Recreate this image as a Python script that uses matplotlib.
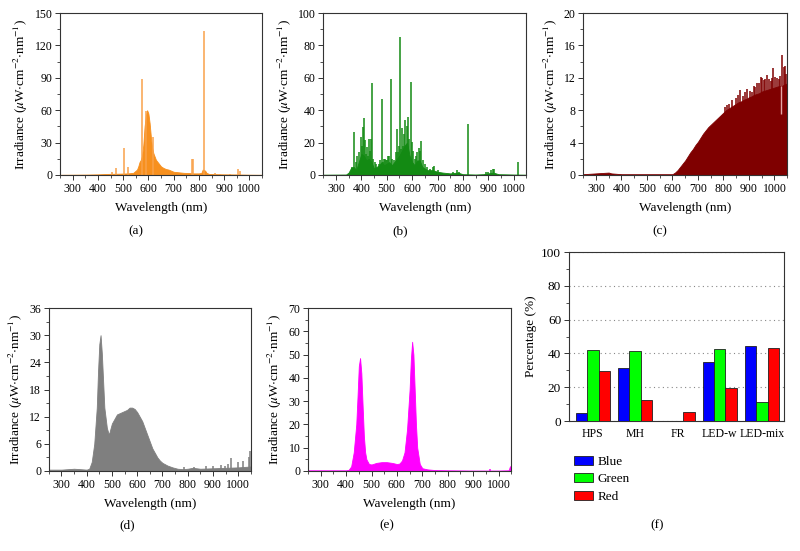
import matplotlib
matplotlib.use("Agg")
import matplotlib.pyplot as plt
from matplotlib.ticker import MultipleLocator

plt.rcParams["font.family"] = ["Liberation Serif", "DejaVu Serif"]
plt.rcParams["mathtext.fontset"] = "stix"

# (a) HPS: continuum + emission lines
hps_wl = [250, 300, 350, 400, 440, 480, 520, 540, 550, 555, 560, 565, 570, 575, 580, 585,
          590, 595, 600, 605, 610, 615, 620, 630, 640, 650, 660, 670, 680, 690, 700, 720,
          740, 760, 780, 800, 810, 815, 825, 830, 840, 860, 900, 950, 1000, 1050]
hps_val = [0.2, 0.3, 0.4, 0.6, 1.0, 1.2, 1.5, 2.0, 4.0, 5.0, 8.0, 12.0, 14.0, 18.0, 28.0, 45.0,
           55.0, 60.0, 57.0, 48.0, 35.0, 25.0, 20.0, 14.0, 11.0, 8.0, 6.5, 5.5, 5.0, 4.0, 3.0, 2.5,
           2.0, 1.8, 1.5, 1.5, 2.0, 5.0, 4.0, 2.0, 1.0, 0.8, 0.6, 0.5, 0.3, 0.2]
hps_line_wl = [455, 471, 503, 520, 573, 590, 620, 772, 776, 820, 864, 882, 922, 955, 963]
hps_line_val = [2.5, 6.2, 25.4, 7.7, 89, 59.5, 35.3, 14.5, 14.5, 133, 2.0, 1.0, 1.0, 5.6, 3.4]

# (b) MH
mh_wl = [250, 340, 350, 360, 370, 380, 390, 400, 410, 420, 430, 440, 450, 460, 470, 480,
         490, 500, 510, 520, 530, 540, 550, 560, 570, 580, 590, 600, 610, 620, 630, 640,
         650, 660, 680, 700, 720, 750, 780, 800, 850, 880, 900, 920, 940, 1000, 1050]
mh_val = [0.2, 0.3, 1.5, 4.5, 5.0, 3.0, 8.0, 13.0, 12.0, 9.0, 10.0, 8.0, 4.0, 5.0, 6.0, 8.0,
          6.0, 7.0, 8.0, 6.0, 8.0, 10.0, 12.0, 15.0, 18.0, 20.0, 12.0, 8.0, 6.0, 9.0, 9.0, 5.0,
          4.0, 3.0, 3.0, 2.0, 1.5, 1.0, 1.5, 0.5, 0.3, 0.5, 1.0, 1.5, 0.5, 0.3, 0.2]
mh_line_wl = [365, 372, 378, 385, 392, 398, 402, 407, 412, 416, 420, 424, 427, 430, 433, 437,
              443, 447, 452, 459, 468, 475, 480, 485, 489, 493, 497, 500, 505, 510, 515, 520,
              527, 535, 541, 545, 548, 552, 556, 560, 566, 570, 574, 578, 583, 589, 595, 600,
              604, 611, 615, 620, 626, 632, 637, 642, 649, 660, 670, 681, 688, 700, 760, 777,
              785, 821, 890, 900, 910, 917, 922, 1015]
mh_line_val = [5, 26.3, 8, 12, 14, 23.4, 18, 29.6, 35.2, 21.3, 13, 17.2, 12, 22.4, 15, 22,
               57, 10, 8, 6.8, 7, 9, 47.2, 8, 10, 10, 9, 9, 12, 12, 59, 10,
               9.3, 14, 28.4, 14, 18, 84.9, 16, 29.2, 18, 25, 33.7, 30, 35.8, 22, 57.3, 20.3,
               15, 10, 12, 14, 16.6, 15.1, 20.7, 9, 6.8, 5, 4, 4.8, 5.8, 3, 2, 3.1,
               2, 31.3, 2, 2, 3, 3.7, 3.5, 7.9]

# (c) FR
fr_wl = [250, 300, 350, 360, 400, 500, 600, 610, 620, 630, 640, 650, 660, 670, 680, 690,
         700, 710, 720, 730, 740, 750, 760, 770, 780, 790, 800, 810, 820, 830, 840, 850,
         860, 870, 880, 890, 900, 910, 920, 930, 940, 950, 960, 970, 980, 990, 1000, 1010,
         1020, 1030, 1040, 1050]
fr_val = [0.1, 0.2, 0.3, 0.2, 0.1, 0.1, 0.1, 0.3, 0.6, 1.0, 1.4, 1.8, 2.3, 2.8, 3.2, 3.7,
          4.1, 4.6, 5.1, 5.5, 5.9, 6.2, 6.5, 6.8, 7.1, 7.4, 7.7, 8.0, 8.2, 8.4, 8.6, 8.8,
          9.0, 9.1, 9.3, 9.4, 9.6, 9.7, 9.9, 10.0, 10.1, 10.3, 10.4, 10.5, 10.6, 10.7, 10.8, 10.9,
          11.0, 11.0, 11.2, 11.3]
fr_line_wl = [805, 815, 822, 835, 848, 858, 865, 875, 885, 893, 905, 912, 918, 925, 933, 940,
              946, 952, 958, 964, 972, 978, 985, 990, 996, 1003, 1010, 1016, 1022, 1028, 1036,
              1042, 1047]
fr_line_val = [8.4, 8.7, 8.8, 9.2, 9.5, 9.9, 10.5, 9.8, 10.3, 10.6, 10.4, 10.2, 11.0, 10.9, 11.3, 11.4,
               12.1, 12.0, 11.7, 11.9, 12.3, 11.8, 11.6, 12.0, 13.2, 12.1, 12.0, 11.8, 12.2, 14.8, 13.3,
               13.4, 12.5]
fr_gap_wl = [1025]
fr_gap_val = [7.5]

# (d) LED-w
ledw_wl = [250, 300, 350, 400, 410, 420, 430, 440, 445, 450, 455, 460, 465, 470, 480, 488,
           495, 500, 510, 520, 540, 560, 570, 580, 590, 600, 610, 620, 630, 640, 650, 660,
           670, 680, 690, 700, 720, 740, 760, 780, 800, 820, 850, 900, 950, 1000, 1050]
ledw_val = [0.3, 0.3, 0.5, 0.3, 0.5, 2.0, 6.0, 14.0, 22.0, 28.0, 30.0, 26.0, 20.0, 14.0, 9.5, 8.0,
            9.5, 10.5, 11.5, 12.5, 13.0, 13.5, 14.0, 14.0, 13.7, 13.0, 12.0, 11.0, 9.5, 8.0, 6.5, 5.0,
            4.0, 3.0, 2.3, 1.8, 1.2, 0.8, 0.5, 0.4, 0.5, 0.7, 0.5, 0.6, 0.7, 0.8, 1.0]
ledw_line_wl = [785, 825, 872, 899, 932, 946, 959, 972, 999, 1019, 1044, 1048]
ledw_line_val = [0.8, 0.8, 1.2, 1.0, 1.4, 1.0, 1.5, 2.9, 1.9, 2.3, 3.2, 4.5]

# (e) LED-mix
ledm_wl = [250, 300, 350, 400, 410, 420, 430, 440, 445, 450, 455, 460, 465, 470, 475, 480,
           490, 500, 520, 540, 560, 580, 600, 610, 620, 630, 640, 650, 655, 660, 665, 670,
           675, 680, 690, 700, 720, 750, 800, 900, 1000, 1040, 1045, 1050]
ledm_val = [0.3, 0.3, 0.3, 0.3, 0.5, 2.0, 8.0, 20.0, 32.0, 45.0, 48.5, 42.0, 28.0, 15.0, 8.0, 5.0,
            3.0, 2.8, 3.5, 3.8, 3.8, 3.5, 3.0, 3.2, 4.5, 8.0, 18.0, 35.0, 48.0, 55.5, 50.0, 35.0,
            20.0, 10.0, 3.0, 1.2, 0.7, 0.4, 0.3, 0.2, 0.2, 0.3, 2.0, 2.0]
ledm_line_wl = [965]
ledm_line_val = [0.9]

# (f) percentages
lamps = ["HPS", "MH", "FR", "LED-w", "LED-mix"]
pct_blue = [4.8, 31.2, 0.0, 34.8, 44.6]
pct_green = [41.8, 41.2, 0.0, 42.4, 11.4]
pct_red = [29.8, 12.4, 5.2, 19.8, 43.4]

YLABEL = r"Irradiance ($\mu$W$\cdot$cm$^{-2}$$\cdot$nm$^{-1}$)"
TICK_FS = 8.5
LAB_FS = 9.5
SPINE_C = "#333333"


def style(ax):
    for s in ax.spines.values():
        s.set_color(SPINE_C)
        s.set_linewidth(0.8)
    ax.tick_params(which="both", direction="out", colors=SPINE_C, labelcolor="black",
                   labelsize=TICK_FS, top=False, right=False)
    ax.tick_params(which="major", length=3.5, width=0.7, pad=2)
    ax.tick_params(which="minor", length=2, width=0.6)


def spectrum(ax, wl, val, color, ymax, ystep, lines=None, line_color=None):
    ax.fill_between(wl, 0, val, color=color, lw=0.6, edgecolor=color)
    if lines is not None:
        ax.vlines(lines[0], 0, lines[1], color=line_color or color, lw=1.1)
    ax.set_xlim(250, 1050)
    ax.set_ylim(0, ymax)
    ax.xaxis.set_minor_locator(MultipleLocator(50))
    ax.yaxis.set_major_locator(MultipleLocator(ystep))
    ax.yaxis.set_minor_locator(MultipleLocator(ystep / 2))
    ax.set_xticks(range(300, 1001, 100))
    ax.set_xlabel("Wavelength (nm)", fontsize=LAB_FS, labelpad=5)
    ax.set_ylabel(YLABEL, fontsize=LAB_FS, labelpad=3)
    style(ax)


fig = plt.figure(figsize=(8, 5.51), dpi=100)

ax_a = fig.add_axes([0.075, 0.6824, 0.2525, 0.294])
spectrum(ax_a, hps_wl, hps_val, "#F7901E", 150, 30, (hps_line_wl, hps_line_val), "#F9A24A")

ax_b = fig.add_axes([0.404, 0.6824, 0.254, 0.294])
spectrum(ax_b, mh_wl, mh_val, "#138A13", 100, 20, (mh_line_wl, mh_line_val))

ax_c = fig.add_axes([0.729, 0.6824, 0.255, 0.294])
spectrum(ax_c, fr_wl, fr_val, "#7F0000", 20, 4, (fr_line_wl, fr_line_val))
ax_c.vlines(fr_gap_wl, fr_gap_val, 11.0, color="#E3A6A6", lw=1.0)

ax_d = fig.add_axes([0.061, 0.1452, 0.2525, 0.2958])
spectrum(ax_d, ledw_wl, ledw_val, "#7F7F7F", 36, 6, (ledw_line_wl, ledw_line_val))

ax_e = fig.add_axes([0.385, 0.1452, 0.254, 0.2958])
spectrum(ax_e, ledm_wl, ledm_val, "#FF00FF", 70, 10, (ledm_line_wl, ledm_line_val))

# (f) bar chart
ax_f = fig.add_axes([0.711, 0.2359, 0.269, 0.3067])
x = list(range(len(lamps)))
w = 0.27
ax_f.bar([i - w for i in x], pct_blue, w, color="#0000FF", edgecolor="#202020", lw=0.6,
         label="Blue", zorder=3)
ax_f.bar(x, pct_green, w, color="#00FF00", edgecolor="#202020", lw=0.6, label="Green", zorder=3)
ax_f.bar([i + w for i in x], pct_red, w, color="#FF0000", edgecolor="#202020", lw=0.6,
         label="Red", zorder=3)
ax_f.set_xlim(-0.57, 4.52)
ax_f.set_ylim(0, 100)
ax_f.set_xticks(x)
ax_f.set_xticklabels(lamps, fontsize=LAB_FS)
ax_f.yaxis.set_major_locator(MultipleLocator(20))
ax_f.yaxis.set_minor_locator(MultipleLocator(10))
ax_f.yaxis.grid(True, which="major", linestyle=(0, (1, 3)), color="#888888", lw=0.8, zorder=0)
ax_f.set_ylabel("Percentage (%)", fontsize=LAB_FS, labelpad=3)
style(ax_f)
ax_f.tick_params(axis="y", labelsize=LAB_FS)
ax_f.tick_params(axis="x", which="both", length=0, pad=5)
ax_f.legend(loc="upper left", bbox_to_anchor=(0.7175, 0.1724), bbox_transform=fig.transFigure,
            frameon=False, fontsize=LAB_FS, borderpad=0, borderaxespad=0, handlelength=1.45,
            handleheight=0.7, labelspacing=0.38, handletextpad=0.35)

for lab, xf, yf in [("(a)", 0.17, 0.581), ("(b)", 0.5, 0.581), ("(c)", 0.825, 0.581),
                    ("(d)", 0.159, 0.047), ("(e)", 0.484, 0.047), ("(f)", 0.821, 0.047)]:
    fig.text(xf, yf, lab, fontsize=LAB_FS, ha="center", va="center")

fig.savefig("out.png", dpi=100)
